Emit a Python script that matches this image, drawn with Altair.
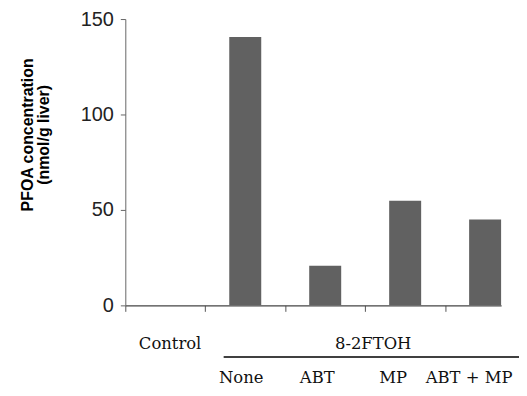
import altair as alt
import pandas as pd

# ---- data ----
groups = ["Control", "None", "ABT", "MP", "ABT + MP"]
pfoa = [0.0, 140.6, 20.8, 54.8, 45.0]
y_ticks = [0, 50, 100, 150]
treatment_labels = ["None", "ABT", "MP", "ABT + MP"]
header_labels = ["Control", "8-2FTOH"]

bars_df = pd.DataFrame({"group": groups, "pfoa": pfoa, "idx": list(range(len(groups)))})
treat_df = pd.DataFrame({"label": treatment_labels,
                         "idx": [groups.index(t) for t in treatment_labels]})
# header: Control sits over its own band, 8-2FTOH spans the treated bands
header_df = pd.DataFrame({"label": header_labels,
                          "start": [0, 1], "end": [1, len(groups)]})

xscale = alt.Scale(domain=[0, 4.7], nice=False, zero=False)
yscale = alt.Scale(domain=[0, 150], nice=False)

bars = alt.Chart(bars_df).transform_calculate(
    x0="datum.idx + 0.3", x1="datum.idx + 0.7"
).mark_bar(color="#616161").encode(
    x=alt.X("x0:Q", scale=xscale,
            axis=alt.Axis(values=[0, 1, 2, 3, 4], labels=False, title=None,
                          grid=False, tickSize=6, tickColor="#555",
                          domainColor="#444", domainWidth=1.2)),
    x2="x1:Q",
    y=alt.Y("pfoa:Q", scale=yscale,
            axis=alt.Axis(values=y_ticks, grid=False, tickSize=5,
                          tickColor="#666", domainColor="#666",
                          labelFont="Liberation Sans", labelFontSize=20,
                          labelColor="#222", labelPadding=7,
                          title=["PFOA concentration", "(nmol/g liver)"],
                          titleFont="Liberation Sans", titleFontSize=16,
                          titleFontWeight="bold", titleColor="#000",
                          titleAngle=-90, titleX=-93, titleY=116,
                          titleAlign="center", titleBaseline="alphabetic",
                          titleLineHeight=16)),
    y2=alt.datum(0),
)

header = alt.Chart(header_df).transform_calculate(
    xc="(datum.start + datum.end) / 2 + 0.05 * datum.end / 5 + 0.05"
).mark_text(font="DejaVu Serif", fontSize=16.5, color="#111",
            baseline="middle").encode(
    x=alt.X("xc:Q", scale=xscale),
    y=alt.value(327),
    text="label:N",
)

rule_df = header_df[header_df["label"] == "8-2FTOH"]
bracket = alt.Chart(rule_df).transform_calculate(
    xs="datum.start + 0.23"
).mark_rule(color="#000", strokeWidth=1.6).encode(
    x=alt.X("xs:Q", scale=xscale),
    x2="end:Q",
    y=alt.value(340),
)

treat = alt.Chart(treat_df).transform_calculate(
    xc="datum.idx + 0.5 - 0.05 * datum.idx"
).mark_text(font="DejaVu Serif", fontSize=16.5, color="#111",
            baseline="middle").encode(
    x=alt.X("xc:Q", scale=xscale),
    y=alt.value(361),
    text="label:N",
)

chart = alt.layer(bars, header, bracket, treat).properties(
    width=378, height=288,
    autosize=alt.AutoSizeParams(type="none"),
    padding={"left": 118, "top": 10, "right": 18, "bottom": 80},
).configure_view(stroke=None)

chart.save("out.html", embed_options={"renderer": "svg", "actions": False})
